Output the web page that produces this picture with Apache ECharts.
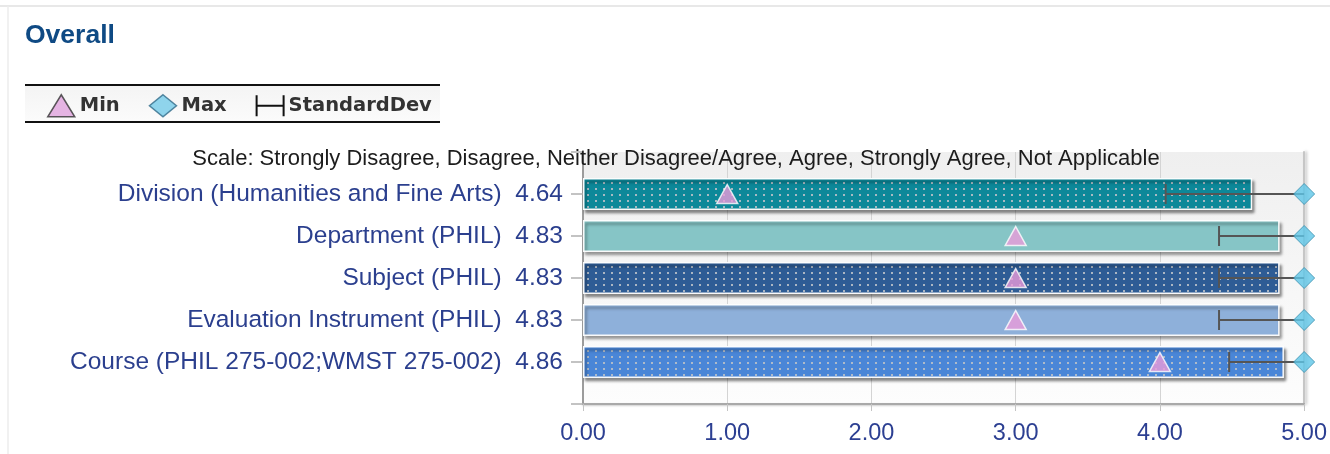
<!DOCTYPE html>
<html>
<head>
<meta charset="utf-8">
<script src="https://cdn.jsdelivr.net/npm/echarts@6/dist/echarts.min.js"></script>
<style>
  html, body { margin: 0; padding: 0; background: #ffffff; }
  #chart { width: 1330px; height: 454px; }
</style>
</head>
<body>
<div id="chart"></div>
<script>
// Overall ratings by comparison group
const categories = [
  'Division (Humanities and Fine Arts)',
  'Department (PHIL)',
  'Subject (PHIL)',
  'Evaluation Instrument (PHIL)',
  'Course (PHIL 275-002;WMST 275-002)'
];
const means   = [4.64, 4.83, 4.83, 4.83, 4.86];
const mins    = [1, 3, 3, 3, 4];
const maxs    = [5, 5, 5, 5, 5];
const stdDevs = [0.60, 0.42, 0.42, 0.42, 0.38];
const xTickLabels = ['0.00', '1.00', '2.00', '3.00', '4.00', '5.00'];
const scaleText = 'Scale: Strongly Disagree, Disagree, Neither Disagree/Agree, Agree, Strongly Agree, Not Applicable';

// bar fills: base colour and whether the bar carries the dot texture
const barFills = [
  { base: '#0d8899', dots: true },
  { base: '#86c5c6', dots: false },
  { base: '#2e5c95', dots: true },
  { base: '#8eb0da', dots: false },
  { base: '#4a86d7', dots: true }
];

function dottedPattern(base) {
  const c = document.createElement('canvas');
  c.width = 8; c.height = 6;
  const g = c.getContext('2d');
  g.fillStyle = base;
  g.fillRect(0, 0, 8, 6);
  g.fillStyle = 'rgba(185,192,200,0.9)';
  g.fillRect(3, 2, 2, 2);
  return { image: c, repeat: 'repeat' };
}

// category axis padded with an empty slot at each end so that rows sit on ticks
const axisRows = [''].concat(categories.map((c, i) => c + '  ' + means[i].toFixed(2))).concat([' ']);

const FONT = '"Liberation Sans", Arial, sans-serif';
const chart = echarts.init(document.getElementById('chart'), null, { renderer: 'canvas' });

chart.setOption({
  animation: false,
  backgroundColor: '#ffffff',
  title: {
    text: 'Overall',
    left: 25,
    top: 22,
    padding: 0,
    textStyle: { fontFamily: FONT, fontSize: 26.5, fontWeight: 'bold', color: '#0f4a84' }
  },
  legend: {
    left: 47,
    top: 94,
    padding: 0,
    itemWidth: 27,
    itemHeight: 22,
    itemGap: 29,
    selectedMode: false,
    textStyle: { fontFamily: '"DejaVu Sans", Verdana, sans-serif', fontWeight: 'bold', fontSize: 19.5, color: '#333333' },
    data: [
      { name: 'Min', icon: 'triangle', itemStyle: { color: '#e0a2dd', borderColor: '#333333', borderWidth: 1.5 } },
      { name: 'Max', icon: 'diamond', itemStyle: { color: '#74cbe9', borderColor: '#2f6a88', borderWidth: 1.5 } },
      { name: 'StandardDev', icon: 'path://M1,0 L1,22 M1,11 L29,11 M29,0 L29,22',
        itemStyle: { color: 'transparent', borderColor: '#111111', borderWidth: 2 } }
    ]
  },
  graphic: [
    { type: 'line', shape: { x1: 0, y1: 6, x2: 1330, y2: 6 }, style: { stroke: '#e8e8e8', lineWidth: 2 }, silent: true },
    { type: 'line', shape: { x1: 8, y1: 6, x2: 8, y2: 454 }, style: { stroke: '#ececec', lineWidth: 1.5 }, silent: true },
    { type: 'rect', shape: { x: 25, y: 86, width: 415, height: 35 },
      style: { fill: new echarts.graphic.LinearGradient(0, 0, 0, 1, [
        { offset: 0, color: '#f4f4f4' }, { offset: 1, color: '#fbfbfb' }]) }, silent: true },
    { type: 'line', shape: { x1: 25, y1: 85, x2: 440, y2: 85 }, style: { stroke: '#111111', lineWidth: 2 }, silent: true },
    { type: 'line', shape: { x1: 25, y1: 122, x2: 440, y2: 122 }, style: { stroke: '#111111', lineWidth: 2 }, silent: true },
    { type: 'text', x: 676, y: 159, z: 100, silent: true,
      style: { text: scaleText, fontFamily: FONT, fontSize: 22, fill: '#1c1c1c', align: 'center', verticalAlign: 'middle' } }
  ],
  grid: {
    left: 583,
    right: 24,
    top: 152,
    bottom: 50,
    show: true,
    borderWidth: 0,
    backgroundColor: new echarts.graphic.LinearGradient(0, 0, 0, 1, [
      { offset: 0, color: '#efefef' }, { offset: 1, color: '#fdfdfd' }])
  },
  xAxis: {
    type: 'value',
    min: 0,
    max: 5,
    interval: 1,
    axisLine: { show: true, lineStyle: { color: '#a9a9a9', width: 2, shadowColor: 'rgba(0,0,0,0.2)', shadowOffsetY: 1, shadowBlur: 2 } },
    axisTick: { show: true, length: 7, lineStyle: { color: '#c4c4c4', width: 1 } },
    splitLine: { show: true, lineStyle: { color: '#d4d4d4', width: 1 } },
    axisLabel: {
      margin: 18,
      fontFamily: FONT,
      fontSize: 23.5,
      color: '#2c3f92',
      formatter: (v) => xTickLabels[Math.round(v)]
    }
  },
  yAxis: [
    {
      type: 'category',
      inverse: true,
      boundaryGap: false,
      data: axisRows,
      axisLine: { show: true, lineStyle: { color: '#9c9c9c', width: 2 } },
      axisTick: { show: true, interval: 0, length: 12, lineStyle: { color: '#b0b0b0', width: 1.5 } },
      axisLabel: { interval: 0, margin: 20, fontFamily: FONT, fontSize: 24.5, color: '#2b3f8e' },
      splitLine: { show: false }
    },
    {
      type: 'value',
      position: 'right',
      axisLine: { show: true, lineStyle: { color: '#c6c6c6', width: 2, shadowColor: 'rgba(0,0,0,0.25)', shadowOffsetX: 2, shadowBlur: 3 } },
      axisTick: { show: false },
      axisLabel: { show: false },
      splitLine: { show: false }
    }
  ],
  series: [
    {
      name: 'Mean',
      type: 'bar',
      barWidth: 32,
      z: 2,
      itemStyle: {
        borderColor: 'rgba(255,255,255,0.95)',
        borderWidth: 1.5,
        shadowColor: 'rgba(0,0,0,0.45)',
        shadowBlur: 3,
        shadowOffsetX: 2,
        shadowOffsetY: 3
      },
      data: means.map((m, i) => ({
        value: [m, i + 1],
        itemStyle: { color: barFills[i].dots ? dottedPattern(barFills[i].base) : barFills[i].base }
      }))
    },
    {
      name: 'StandardDev',
      type: 'custom',
      z: 3,
      encode: { x: [0, 1], y: 2 },
      data: stdDevs.map((s, i) => [means[i] - s, means[i] + s, i + 1]),
      renderItem: function (params, api) {
        const row = api.value(2);
        const lo = api.coord([api.value(0), row]);
        const hi = api.coord([api.value(1), row]);
        const cs = params.coordSys;
        const right = cs.x + cs.width;
        const y = lo[1];
        const cap = 10;
        const style = { stroke: '#555555', lineWidth: 2 };
        const children = [
          { type: 'line', shape: { x1: lo[0], y1: y, x2: Math.min(hi[0], right), y2: y }, style: style },
          { type: 'line', shape: { x1: lo[0], y1: y - cap, x2: lo[0], y2: y + cap }, style: style }
        ];
        if (hi[0] <= right) {
          children.push({ type: 'line', shape: { x1: hi[0], y1: y - cap, x2: hi[0], y2: y + cap }, style: style });
        }
        return { type: 'group', children: children };
      }
    },
    {
      name: 'Min',
      type: 'scatter',
      z: 4,
      clip: false,
      symbol: 'triangle',
      symbolSize: [21, 19],
      itemStyle: { color: '#ea9bd9', borderColor: '#ffffff', borderWidth: 1.5 },
      data: mins.map((v, i) => [v, i + 1])
    },
    {
      name: 'Max',
      type: 'scatter',
      z: 5,
      clip: false,
      symbol: 'diamond',
      symbolSize: [21, 21],
      itemStyle: { color: '#5ec5e7', borderColor: '#3a8dac', borderWidth: 1 },
      data: maxs.map((v, i) => [v, i + 1])
    }
  ]
});
</script>
</body>
</html>
